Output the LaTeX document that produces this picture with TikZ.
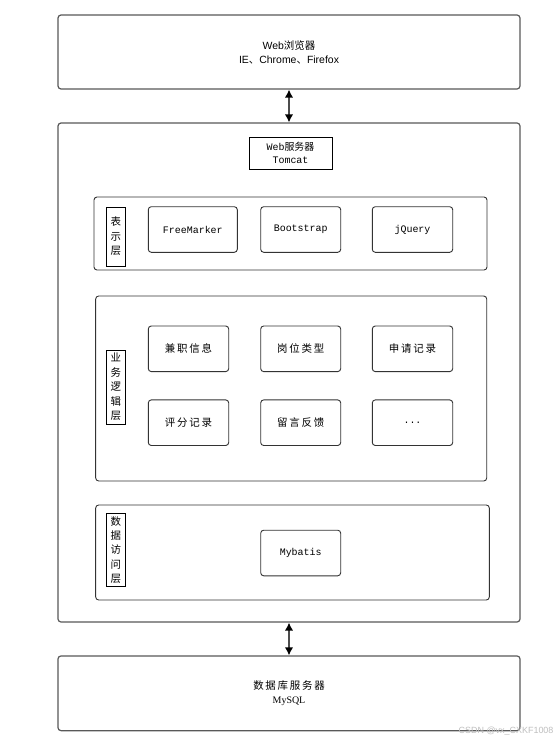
\documentclass[tikz,border=0pt]{standalone}
\usepackage{fontspec}
\setmainfont{Liberation Sans}
\newfontfamily\cjk{Noto Sans CJK SC}
\newfontfamily\monof{Liberation Mono}
\newfontfamily\serf{Liberation Serif}
\usetikzlibrary{arrows.meta}
\begin{document}
\begin{tikzpicture}[x=1bp,y=-1bp,
  outerbox/.style={draw=black!65, line width=1.2bp, rounded corners=3bp, inner sep=0pt},
  layerbox/.style={draw=black!80, line width=0.9bp, rounded corners=3bp, inner sep=0pt},
  itembox/.style={draw=black!80, line width=0.9bp, rounded corners=3bp, inner sep=0pt, minimum width=80bp, minimum height=45.6bp},
  labelbox/.style={draw=black, line width=0.8bp, inner sep=0pt, minimum width=18.3bp, align=center, font=\cjk\fontsize{10.5}{14.5}\selectfont},
  cjktext/.style={font=\cjk\fontsize{10.5}{12}\selectfont},
  monotext/.style={font=\monof\fontsize{10}{12}\selectfont},
  biarrow/.style={draw=black!70, line width=1.5bp, {Latex[length=8bp,width=8.5bp,color=black]}-{Latex[length=8bp,width=8.5bp,color=black]}}
]
\useasboundingbox (0,0) rectangle (560,743);
\fill[white] (0,0) rectangle (560,743);

% top browser box
\node[outerbox, minimum width=462bp, minimum height=74bp, align=center, font=\fontsize{10.5}{14}\selectfont] (browser) at (289,52) {Web{\cjk 浏览器}\\IE{\cjk 、}Chrome{\cjk 、}Firefox};

% main server box
\node[outerbox, minimum width=462bp, minimum height=499bp] (server) at (289,372.5) {};

% tomcat label
\node[draw=black, line width=0.8bp, inner sep=0pt, minimum width=83bp, minimum height=32bp, align=center, font=\monof\fontsize{10}{13.5}\selectfont] (tomcat) at (290.5,153) {Web{\cjk 服务器}\\Tomcat};

% presentation layer
\node[layerbox, minimum width=393bp, minimum height=73bp] (pres) at (290.5,233.5) {};
\node[labelbox, minimum height=59bp] (presl) at (115.9,236.5) {表\\示\\层};
\node[itembox, minimum width=89bp, monotext] (fm) at (192.8,229.5) {FreeMarker};
\node[itembox, monotext] (bs) at (300.7,229.5) {Bootstrap};
\node[itembox, minimum width=80.4bp, monotext] (jq) at (412.5,229.5) {jQuery};

% business layer
\node[layerbox, minimum width=391bp, minimum height=185bp] (biz) at (291.2,388.5) {};
\node[labelbox, minimum height=74bp] (bizl) at (115.9,387) {业\\务\\逻\\辑\\层};
\node[itembox, minimum width=80.4bp, cjktext] (a1) at (188.5,348.8) {兼\,职\,信\,息};
\node[itembox, cjktext] (a2) at (300.7,348.8) {岗\,位\,类\,型};
\node[itembox, minimum width=80.4bp, cjktext] (a3) at (412.5,348.8) {申\,请\,记\,录};
\node[itembox, minimum width=80.4bp, cjktext] (b1) at (188.5,422.7) {评\,分\,记\,录};
\node[itembox, cjktext] (b2) at (300.7,422.7) {留\,言\,反\,馈};
\node[itembox, minimum width=80.4bp, monotext] (b3) at (412.5,422.7) {...};

% data access layer
\node[layerbox, minimum width=393.6bp, minimum height=95bp] (data) at (292.5,552.5) {};
\node[labelbox, minimum height=73.4bp] (datal) at (115.9,550) {数\\据\\访\\问\\层};
\node[itembox, monotext] (mb) at (300.7,553) {Mybatis};

% database box
\node[outerbox, minimum width=462bp, minimum height=74.7bp, align=center, font=\serf\fontsize{10}{14}\selectfont] (db) at (289,693.3) {{\cjk\fontsize{10.5}{14}\selectfont 数\,据\,库\,服\,务\,器}\\MySQL};

% connectors
\draw[biarrow] (browser.south -| 289,0) -- (server.north -| 289,0);
\draw[biarrow] (server.south -| 289,0) -- (db.north -| 289,0);

% watermark
\node[text=black!25, font=\fontsize{9}{10}\selectfont, anchor=east] (wm) at (557,731) {CSDN @vx\_CXKF1008};
\end{tikzpicture}
\end{document}
